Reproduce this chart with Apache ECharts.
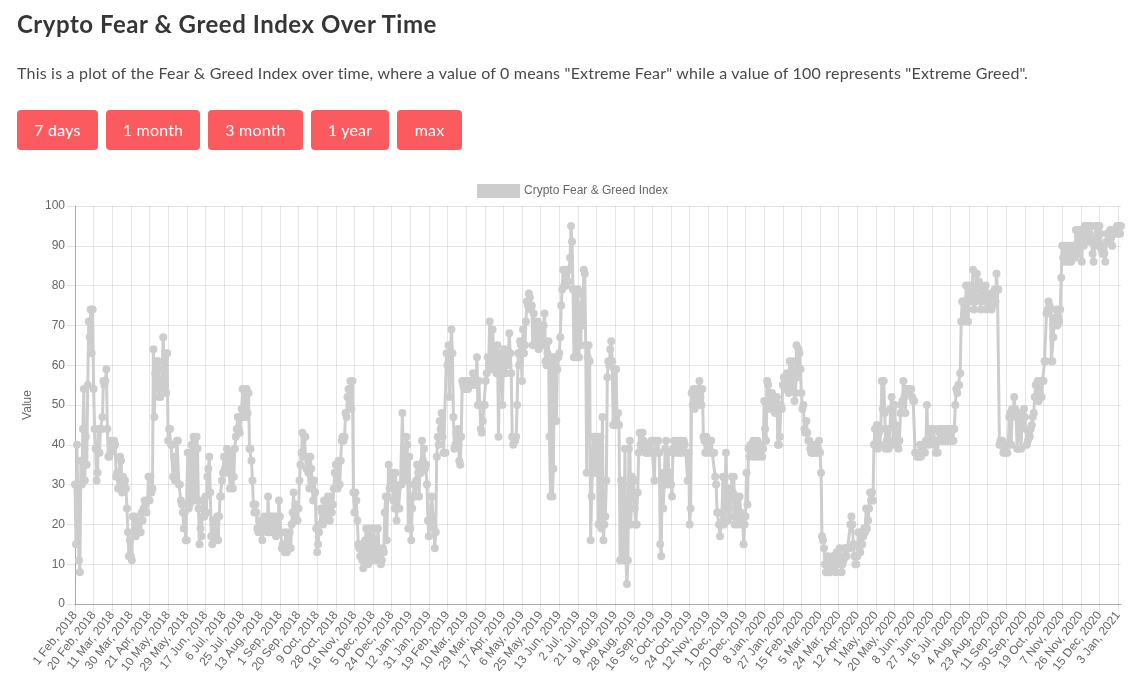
<!DOCTYPE html>
<html>
<head>
    <meta charset="utf-8">
    <title>Crypto Fear &amp; Greed Index Over Time</title>
    <script src="https://cdn.jsdelivr.net/npm/echarts@6/dist/echarts.min.js"></script>
    <style>
        html, body { margin: 0; padding: 0; background: #fff; }
        body { width: 1142px; height: 690px; position: relative; overflow: hidden; font-family: Lato, "Noto Sans", sans-serif; color: #363636; }
        h1 { position: absolute; left: 17px; top: 8px; margin: 0; font-size: 24px; line-height: 32px; font-weight: 700; white-space: nowrap; letter-spacing: 0.52px; }
        p { position: absolute; left: 17px; top: 61px; margin: 0; font-size: 16px; line-height: 24px; color: #4a4a4a; white-space: nowrap; letter-spacing: 0.2px; }
        .btn { position: absolute; top: 110px; height: 40px; line-height: 39px; text-align: center; background: #fb5a5e; color: #fff; font-size: 16px; border-radius: 4px; letter-spacing: 0.2px; }
        #main { position: absolute; left: 0; top: 0; width: 1142px; height: 690px; }
    </style>
</head>
<body>
    <div id="main"></div>
    <h1>Crypto Fear &amp; Greed Index Over Time</h1>
    <p>This is a plot of the Fear &amp; Greed Index over time, where a value of 0 means "Extreme Fear" while a value of 100 represents "Extreme Greed".</p>
    <div class="btn" style="left:17px;width:81px">7 days</div>
    <div class="btn" style="left:106px;width:94px">1 month</div>
    <div class="btn" style="left:208px;width:95px">3 month</div>
    <div class="btn" style="left:311px;width:78px">1 year</div>
    <div class="btn" style="left:397px;width:65px">max</div>
    <script type="text/javascript">
        // one tick label every 19 days
        var tickLabels = [
            '1 Feb, 2018', '20 Feb, 2018', '11 Mar, 2018', '30 Mar, 2018', '21 Apr, 2018', '10 May, 2018',
            '29 May, 2018', '17 Jun, 2018', '6 Jul, 2018', '25 Jul, 2018', '13 Aug, 2018', '1 Sep, 2018',
            '20 Sep, 2018', '9 Oct, 2018', '28 Oct, 2018', '16 Nov, 2018', '5 Dec, 2018', '24 Dec, 2018',
            '12 Jan, 2019', '31 Jan, 2019', '19 Feb, 2019', '10 Mar, 2019', '29 Mar, 2019', '17 Apr, 2019',
            '6 May, 2019', '25 May, 2019', '13 Jun, 2019', '2 Jul, 2019', '21 Jul, 2019', '9 Aug, 2019',
            '28 Aug, 2019', '16 Sep, 2019', '5 Oct, 2019', '24 Oct, 2019', '12 Nov, 2019', '1 Dec, 2019',
            '20 Dec, 2019', '8 Jan, 2020', '27 Jan, 2020', '15 Feb, 2020', '5 Mar, 2020', '24 Mar, 2020',
            '12 Apr, 2020', '1 May, 2020', '20 May, 2020', '8 Jun, 2020', '27 Jun, 2020', '16 Jul, 2020',
            '4 Aug, 2020', '23 Aug, 2020', '11 Sep, 2020', '30 Sep, 2020', '19 Oct, 2020', '7 Nov, 2020',
            '26 Nov, 2020', '15 Dec, 2020', '3 Jan, 2021'
        ];

        // daily values in order
        var indexValues = [
            30,15,40,24,11,8,36,30,44,54,31,42,35,55,71,67,74,63,74,
            54,44,39,31,33,44,38,44,44,47,56,55,56,59,44,37,37,38,
            41,40,39,41,40,32,33,29,33,37,36,28,32,30,31,29,24,18,
            12,16,12,11,22,18,22,17,20,21,18,21,18,23,21,24,26,25,23,
            26,32,26,32,28,29,64,47,58,61,54,61,52,52,55,59,67,54,
            63,53,63,41,44,44,40,40,32,37,31,31,41,41,30,30,26,25,23,
            19,23,16,16,38,24,25,38,40,26,42,41,26,42,39,24,15,19,
            17,26,22,22,27,23,32,34,37,28,17,15,21,16,21,17,22,16,22,
            27,27,31,33,37,34,33,39,35,38,29,33,37,29,32,39,42,44,
            47,44,43,47,49,54,47,54,47,54,48,53,39,39,36,31,25,23,25,
            23,19,18,21,20,18,16,20,22,19,21,18,27,18,22,19,22,18,
            22,18,17,22,18,26,22,18,14,15,14,13,18,13,17,14,18,14,20,
            23,28,21,25,24,21,24,31,35,38,43,37,42,42,34,37,33,29,
            37,34,30,26,31,28,19,13,15,18,20,24,23,20,26,22,24,21,27,
            26,21,27,23,25,29,33,35,32,29,36,30,36,41,42,41,42,48,
            47,52,54,50,56,49,56,28,23,28,26,21,15,14,12,15,11,9,13,16,19,12,10,17,19,13,11,
            13,19,12,16,11,19,14,12,10,11,14,13,23,27,16,27,35,29,33,
            30,33,26,24,33,21,29,24,24,30,30,48,33,31,34,42,40,19,37,
            19,16,24,27,30,27,31,35,33,27,35,33,41,36,39,34,35,30,21,
            17,24,20,27,22,19,14,18,37,42,40,46,44,48,42,38,38,38,63,
            60,65,52,63,69,63,47,39,40,43,40,44,36,35,42,56,55,54,56,
            54,56,54,56,55,56,55,58,56,57,55,62,50,56,50,44,43,46,50,
            50,56,58,62,60,71,61,59,69,64,63,60,58,65,42,60,63,62,50,
            60,64,58,62,60,63,68,63,58,42,40,41,41,42,50,63,60,66,65,
            56,69,63,65,71,76,75,78,77,74,75,65,73,68,66,67,71,64,65,
            67,69,65,70,73,61,60,63,66,42,27,62,27,34,62,59,46,59,62,
            63,67,75,79,84,80,84,80,84,81,84,87,95,91,79,62,79,73,62,
            79,62,75,65,78,70,84,83,65,33,62,65,61,16,27,35,42,33,42,
            33,42,20,33,42,19,47,16,20,22,31,57,61,60,64,66,61,45,59,
            45,59,45,48,45,11,31,11,30,12,39,11,5,11,39,41,20,32,28,
            31,24,20,20,28,38,43,40,43,43,41,39,38,38,39,38,40,38,41,
            41,41,31,41,38,41,41,38,15,12,33,24,30,39,41,30,38,31,33,
            30,27,39,41,38,39,41,38,39,38,41,38,39,41,40,38,38,31,38,
            20,24,53,50,54,49,53,50,54,50,56,52,50,54,42,41,38,42,38,
            41,41,38,41,38,38,38,32,30,23,23,20,17,20,23,32,20,25,38,
            29,21,27,29,22,32,28,32,20,24,27,20,22,27,23,20,22,15,20,
            22,33,25,39,37,40,38,39,41,37,40,38,41,37,39,38,40,37,39,
            51,44,41,56,55,53,49,52,53,50,50,48,51,52,40,40,42,50,49,
            55,57,54,57,58,56,53,61,56,54,61,56,51,53,65,57,64,63,59,
            53,49,50,44,43,46,43,41,41,39,38,38,38,40,38,39,38,39,41,
            38,33,17,16,14,10,8,8,12,10,8,11,10,12,9,10,8,13,10,
            11,14,12,8,10,11,14,14,12,14,14,14,20,22,20,15,12,10,10,
            12,18,14,13,18,15,17,19,18,24,19,21,24,28,26,28,26,40,44,
            40,45,39,43,40,44,56,49,56,48,39,41,44,39,41,49,52,49,40,
            50,45,43,41,39,41,48,50,51,56,52,48,54,53,54,54,54,54,52,
            51,51,38,38,37,38,37,40,37,38,38,40,38,41,50,41,40,44,41,
            44,41,44,40,38,41,38,44,43,41,44,41,44,41,44,41,44,41,44,
            41,44,41,41,44,50,54,53,55,55,58,71,76,76,76,71,80,74,71,
            80,76,79,78,84,74,79,76,83,80,81,77,74,80,78,79,76,80,74,
            76,75,78,76,74,75,78,79,76,83,79,79,40,41,40,41,38,39,38,
            38,38,40,47,48,40,49,48,52,49,47,39,39,48,45,39,46,47,49,
            47,44,40,41,43,42,44,45,47,48,52,55,52,56,51,53,56,52,56,
            56,61,61,73,74,76,75,74,61,61,67,72,71,74,70,72,71,74,82,
            90,87,90,86,90,87,90,86,90,86,89,87,90,87,94,90,94,88,94,
            94,86,93,90,95,92,95,91,95,93,95,91,88,86,90,95,92,95,90,
            95,93,89,88,90,88,86,91,93,93,92,94,92,90,93,94,93,94,95,
            93,95,93,95
        ];

        var categories = indexValues.map(function (v, i) {
            return tickLabels[i / 19] || '';
        });

        var myChart = echarts.init(document.getElementById('main'));
        var gridColor = 'rgba(0,0,0,0.1)';

        myChart.setOption({
            animation: false,
            textStyle: { fontFamily: '"Liberation Sans", Arial, sans-serif' },
            grid: { left: 75, right: 21, top: 206, bottom: 86, containLabel: false },
            legend: {
                top: 179,
                left: 472,
                itemWidth: 43,
                itemHeight: 14,
                itemGap: 4,
                icon: 'rect',
                textStyle: { color: '#666', fontSize: 12, padding: [0, 0, 0, -1] },
                data: ['Crypto Fear & Greed Index']
            },
            xAxis: {
                type: 'category',
                data: categories,
                boundaryGap: false,
                axisLine: { lineStyle: { color: '#aaa', width: 1 } },
                axisTick: { show: true, interval: 18, length: 8, lineStyle: { color: gridColor } },
                splitLine: { show: true, interval: 18, lineStyle: { color: gridColor, width: 1 } },
                axisLabel: { interval: 18, rotate: 52, margin: 9, color: '#666', fontSize: 12, hideOverlap: false }
            },
            yAxis: {
                type: 'value',
                min: 0,
                max: 100,
                interval: 10,
                name: 'Value',
                nameLocation: 'middle',
                nameGap: 37,
                nameTextStyle: { color: '#666', fontSize: 12 },
                axisLine: { show: true, lineStyle: { color: '#aaa', width: 1 } },
                axisTick: { show: true, length: 8, lineStyle: { color: gridColor } },
                splitLine: { show: true, lineStyle: { color: gridColor, width: 1 } },
                axisLabel: { margin: 10, color: '#666', fontSize: 12 }
            },
            series: [{
                name: 'Crypto Fear & Greed Index',
                type: 'line',
                data: indexValues,
                showAllSymbol: true,
                symbol: 'circle',
                symbolSize: 8,
                sampling: 'none',
                itemStyle: { color: '#cdcdcd' },
                lineStyle: { color: '#cdcdcd', width: 3 }
            }]
        });
    </script>
</body>
</html>
